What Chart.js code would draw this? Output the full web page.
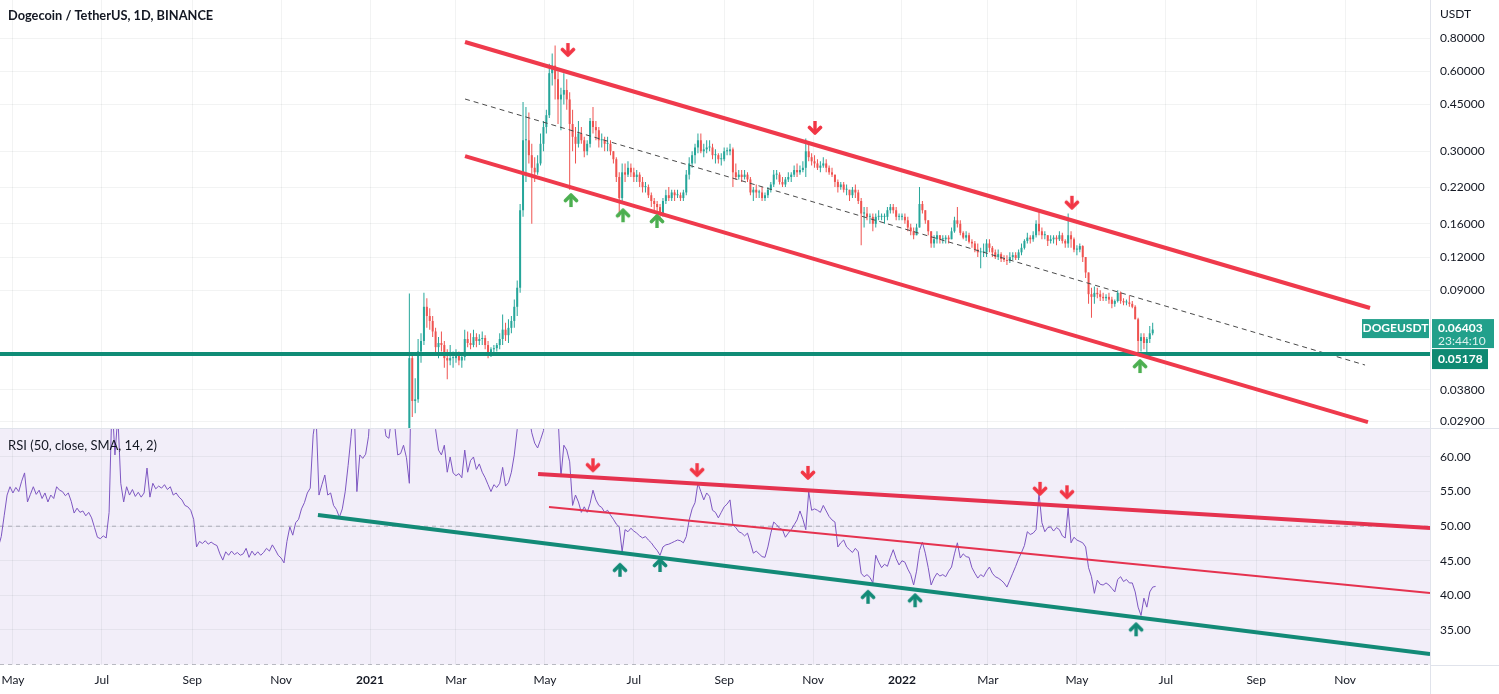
<!DOCTYPE html>
<html><head><meta charset="utf-8">
<script src="https://cdn.jsdelivr.net/npm/chart.js@4.4.1/dist/chart.umd.min.js"></script>
<style>html,body{margin:0;padding:0;background:#fff;overflow:hidden}#wrap{position:relative;width:1499px;height:694px}canvas{display:block}</style>
</head><body><div id="wrap"><canvas id="c" width="1499" height="694"></canvas></div>
<script>
// ---------- DATA ----------
const chartTitle = 'Dogecoin / TetherUS, 1D, BINANCE';
const rsiTitle = 'RSI (50, close, SMA, 14, 2)';
const symbol = 'DOGEUSDT';
const quoteCurrency = 'USDT';
const countdown = '23:44:10';
const lastPrice = 0.06403;
const supportLevel = 0.05178;

// x values are days since 2021-01-01; candles are 2-day candles starting 2021-01-28
const CANDLE_START = 27;
const CANDLE_STEP = 2;
const firstOpen = 0.0075;
const candleHigh = [
.0876,.0520,.0420,.0590,.0620,.0880,.0840,.0770,.0720,.0650,
.0600,.0630,.0580,.0540,.0560,.0530,.0540,.0530,.0520,.0640,
.0630,.0620,.0640,.0620,.0615,.0630,.0610,.0580,.0550,.0560,
.0570,.0620,.0730,.0680,.0700,.0720,.0830,.0980,.1900,.4600,
.4400,.4200,.3200,.2850,.2900,.3500,.3900,.4300,.6400,.7000,
.7500,.6000,.5200,.5900,.5600,.5000,.4300,.3700,.3900,.3700,
.3400,.3300,.4000,.4400,.3900,.3700,.3500,.3400,.3400,.3300,
.3000,.2850,.2500,.2700,.2700,.2750,.2700,.2600,.2550,.2500,
.2400,.2300,.2250,.2100,.2000,.1950,.1900,.2000,.2150,.2200,
.2150,.2150,.2150,.2100,.2150,.2550,.2850,.3000,.3200,.3500,
.3500,.3200,.3300,.3300,.3200,.3050,.2950,.2950,.3100,.3100,
.3200,.3100,.2700,.2550,.2550,.2550,.2500,.2400,.2200,.2250,
.2150,.2200,.2100,.2200,.2300,.2550,.2550,.2500,.2400,.2400,
.2500,.2500,.2650,.2700,.2650,.2750,.3350,.3200,.2950,.2900,
.2800,.2750,.2850,.2800,.2650,.2600,.2450,.2350,.2300,.2300,
.2250,.2150,.2200,.2250,.2150,.2000,.1850,.1850,.1750,.1750,
.1750,.1800,.1750,.1750,.1850,.1900,.1900,.1850,.1750,.1750,
.1750,.1700,.1600,.1550,.1600,.2200,.1950,.1800,.1650,.1500,
.1450,.1500,.1450,.1450,.1450,.1450,.1550,.1700,.1850,.1650,
.1500,.1500,.1480,.1400,.1380,.1350,.1300,.1350,.1400,.1400,
.1320,.1280,.1280,.1250,.1220,.1220,.1250,.1250,.1250,.1280,
.1350,.1400,.1480,.1450,.1500,.1650,.1780,.1550,.1500,.1450,
.1450,.1450,.1450,.1500,.1480,.1400,.1750,.1500,.1420,.1330,
.1350,.1330,.1200,.1050,.0920,.0930,.0920,.0900,.0880,.0870,
.0880,.0850,.0830,.0900,.0890,.0840,.0830,.0860,.0820,.0790,
.0710,.0620,.0620,.0600,.0660,.0680];
const candleLow = [
.0075,.0300,.0310,.0340,.0480,.0560,.0650,.0640,.0600,.0520,
.0500,.0530,.0460,.0416,.0470,.0460,.0480,.0470,.0460,.0490,
.0550,.0540,.0550,.0550,.0560,.0560,.0540,.0500,.0505,.0520,
.0530,.0540,.0560,.0580,.0570,.0620,.0650,.0720,.0880,.1700,
.2300,.2700,.1600,.2300,.2450,.2650,.3000,.3500,.4000,.5300,
.4700,.3800,.3600,.4500,.4300,.2150,.3000,.2700,.3100,.3200,
.2850,.2900,.3100,.3500,.3300,.3100,.3100,.3000,.3000,.2900,
.2700,.2300,.1700,.1900,.2300,.2400,.2400,.2300,.2300,.2200,
.2100,.2100,.2000,.1850,.1800,.1750,.1650,.1700,.1900,.1950,
.1950,.1950,.2000,.1950,.1950,.2050,.2350,.2600,.2700,.2950,
.2950,.2850,.2950,.3000,.2800,.2700,.2700,.2650,.2750,.2900,
.2900,.2200,.2350,.2350,.2300,.2350,.2300,.2050,.1950,.2000,
.2000,.1950,.1950,.2000,.2100,.2200,.2350,.2250,.2200,.2200,
.2300,.2300,.2400,.2400,.2450,.2500,.2400,.2750,.2650,.2600,
.2550,.2500,.2600,.2500,.2450,.2400,.2200,.2100,.2150,.2100,
.2050,.1950,.2000,.2000,.1900,.1330,.1550,.1650,.1600,.1500,
.1550,.1650,.1650,.1600,.1650,.1750,.1750,.1650,.1650,.1650,
.1600,.1500,.1450,.1400,.1450,.1550,.1750,.1600,.1450,.1300,
.1300,.1350,.1350,.1350,.1350,.1350,.1400,.1480,.1550,.1450,
.1400,.1380,.1350,.1300,.1250,.1200,.1090,.1200,.1200,.1250,
.1200,.1180,.1170,.1150,.1150,.1120,.1140,.1170,.1170,.1170,
.1220,.1280,.1350,.1350,.1370,.1420,.1450,.1400,.1400,.1320,
.1350,.1350,.1330,.1380,.1350,.1300,.1300,.1300,.1250,.1220,
.1250,.1150,.1000,.0800,.0710,.0800,.0840,.0820,.0820,.0820,
.0800,.0770,.0780,.0810,.0800,.0790,.0790,.0780,.0770,.0700,
.0510,.0530,.0540,.0500,.0570,.0610];
const candleClose = [
.0500,.0345,.0350,.0530,.0580,.0780,.0720,.0690,.0630,.0550,
.0570,.0560,.0500,.0490,.0500,.0500,.0510,.0490,.0505,.0590,
.0570,.0560,.0600,.0580,.0590,.0595,.0560,.0520,.0540,.0545,
.0560,.0590,.0640,.0610,.0650,.0690,.0780,.0920,.1800,.3300,
.3300,.2900,.2600,.2500,.2700,.3200,.3700,.4100,.5900,.6300,
.5600,.4700,.4900,.5100,.4700,.3800,.3400,.3200,.3500,.3300,
.3000,.3200,.3900,.3700,.3600,.3300,.3300,.3200,.3200,.3000,
.2800,.2400,.2000,.2500,.2450,.2600,.2500,.2400,.2450,.2300,
.2200,.2200,.2050,.1950,.1900,.1850,.1750,.1950,.2050,.2000,
.2100,.2050,.2050,.2000,.2100,.2450,.2700,.2900,.3100,.3300,
.3000,.3050,.3100,.3100,.2900,.2900,.2800,.2800,.3000,.3000,
.3050,.2500,.2400,.2450,.2400,.2450,.2350,.2100,.2150,.2100,
.2100,.2000,.2050,.2150,.2250,.2450,.2450,.2300,.2250,.2350,
.2400,.2450,.2550,.2500,.2550,.2600,.3000,.2850,.2750,.2700,
.2600,.2650,.2700,.2600,.2500,.2450,.2300,.2200,.2250,.2150,
.2150,.2050,.2150,.2100,.1950,.1750,.1750,.1700,.1700,.1600,
.1700,.1700,.1700,.1700,.1800,.1850,.1800,.1700,.1700,.1700,
.1650,.1550,.1500,.1450,.1550,.1900,.1800,.1650,.1500,.1350,
.1400,.1450,.1400,.1400,.1420,.1400,.1500,.1650,.1600,.1480,
.1420,.1450,.1370,.1350,.1280,.1250,.1250,.1250,.1350,.1300,
.1250,.1200,.1230,.1180,.1170,.1160,.1200,.1220,.1190,.1250,
.1300,.1380,.1420,.1400,.1450,.1600,.1500,.1450,.1450,.1380,
.1400,.1420,.1400,.1450,.1380,.1350,.1450,.1400,.1280,.1280,
.1320,.1200,.1050,.0870,.0850,.0880,.0870,.0850,.0840,.0850,
.0830,.0800,.0820,.0880,.0820,.0810,.0810,.0800,.0780,.0700,
.0580,.0600,.0570,.0590,.0620,.06403];

// RSI(50): one value every 2 days starting 2020-04-21 (day -255)
const RSI_START = -255;
const RSI_STEP = 2;
const rsiValues = [
47.0,48.5,51.5,54.5,55.7,54.8,55.6,55.0,56.5,57.7,
53.5,54.6,55.7,54.6,55.2,54.0,54.8,53.5,54.5,54.0,
55.7,55.2,55.0,54.4,54.8,53.6,51.9,52.6,52.0,52.2,
51.5,52.0,51.2,49.8,48.4,48.2,48.6,48.3,52.0,68.0,
60.3,66.0,56.2,53.5,55.7,54.5,55.3,54.3,54.9,54.2,
54.8,58.4,54.2,56.2,55.4,55.8,55.5,56.0,55.3,55.7,
54.5,54.8,54.2,53.8,53.0,52.8,52.3,51.0,47.0,47.8,
47.5,47.9,47.4,47.7,47.4,47.2,46.0,45.1,46.3,45.8,
46.4,45.9,46.2,45.8,46.0,46.8,45.5,46.4,45.8,46.3,
45.8,46.2,46.8,46.4,47.3,46.6,45.8,45.4,44.7,47.8,
49.9,48.7,50.5,51.0,52.5,53.4,54.8,55.5,63.2,66.0,
54.5,56.0,57.4,54.5,54.8,53.0,52.4,51.3,52.5,55.0,
58.8,63.0,68.0,55.0,60.3,59.8,60.4,63.0,70.0,72.0,
70.0,68.0,66.0,63.0,62.7,66.0,64.5,60.3,60.5,61.7,
59.9,56.2,80.0,78.0,74.0,72.0,76.0,73.0,70.0,67.0,
64.0,61.0,60.3,61.7,57.8,60.0,57.7,57.3,57.6,57.0,
61.0,57.8,59.5,60.0,58.2,59.0,57.8,57.0,56.0,55.0,
56.0,55.6,56.2,58.5,55.8,56.3,57.8,60.3,64.0,70.0,
76.0,72.0,66.0,63.5,62.0,61.3,62.5,63.8,68.0,72.0,
70.0,69.0,66.0,57.1,61.7,61.0,59.3,53.0,54.5,53.5,
52.0,52.8,52.0,53.3,55.2,53.8,53.0,52.7,52.0,52.3,
51.6,51.0,50.3,49.9,46.3,49.5,49.2,49.7,49.3,49.0,
48.6,48.3,48.5,48.0,47.6,47.0,46.5,45.8,47.0,47.3,
47.4,47.6,47.8,48.0,47.9,47.6,48.5,50.9,52.5,53.4,
56.2,55.0,53.8,54.8,54.3,52.3,52.0,51.2,52.0,52.8,
53.2,53.8,50.2,49.8,49.2,49.0,48.6,49.0,47.6,46.1,
46.4,46.0,45.6,45.5,47.0,49.0,50.6,50.2,49.7,49.5,
48.4,49.0,49.5,50.2,50.9,52.2,51.0,49.5,55.0,52.3,
52.5,52.3,52.0,53.0,52.2,51.4,50.9,50.6,47.0,47.6,
48.0,47.0,46.6,46.2,46.8,46.3,43.2,42.7,43.0,42.6,
41.8,45.8,44.8,44.0,44.5,44.2,45.5,46.6,45.3,44.4,
45.0,44.8,43.8,43.0,41.5,43.5,46.5,47.7,46.1,44.0,
41.5,42.5,43.2,42.8,43.0,42.7,43.5,44.1,46.0,47.6,
45.4,46.0,45.6,45.5,44.0,43.2,42.5,43.0,42.7,43.5,
44.1,43.2,42.7,42.5,42.2,41.8,41.2,42.2,43.2,44.2,
45.3,46.2,47.2,49.2,48.8,49.0,49.5,54.8,50.5,49.2,
49.8,49.9,49.3,49.8,49.5,48.6,48.3,52.6,47.6,48.4,
48.0,47.8,47.6,47.0,44.0,42.7,40.3,42.2,41.6,41.5,
41.8,41.5,41.0,40.5,42.3,42.7,42.0,42.3,41.8,41.8,
40.5,38.3,37.1,39.6,38.3,40.5,41.2,41.3];

// axes
const xMin = -253.86, xMax = 727.27;
const timeTickDays = [-245,-184,-122,-61,0,59,120,181,243,304,365,424,485,546,608,669];
const timeTickLabels = ['May','Jul','Sep','Nov','2021','Mar','May','Jul','Sep','Nov','2022','Mar','May','Jul','Sep','Nov'];
const priceMin = 0.0273, priceMax = 1.112;
const priceTicks = [0.8,0.6,0.45,0.3,0.22,0.16,0.12,0.09,0.038,0.029];
const rsiMin = 29.94, rsiMax = 64.19;
const rsiTicks = [35,40,45,50,55,60];
const rsiLevels = [50,30];

// drawings [day, value]
const channelUpper = [[65.2,0.7727],[686.1,0.0772]];
const channelLower = [[65.2,0.2878],[684.7,0.02873]];
const channelMid = [[65.2,0.4717],[682.7,0.0471]];
const priceArrowsDown = [[135.8,0.721],[305.3,0.367],[481.6,0.192]];
const priceArrowsUp = [[137.9,0.1966],[173.6,0.1724],[196.9,0.164],[528.3,0.0467]];
const rsiLineUpper = [[115.3,57.54],[727.3,49.74]];
const rsiLineMid = [[122.8,52.77],[727.3,40.35]];
const rsiLineLower = [[-35.7,51.62],[727.3,31.53]];
const rsiArrowsDown = [[153,58.8],[224.4,58.1],[300.5,57.7],[459.7,55.4],[478.2,54.9]];
const rsiArrowsUp = [[171.5,43.7],[199,44.4],[341.7,39.8],[374,39.3],[525.6,35.1]];

// ---------- BUILD ----------
const GREEN = '#26a69a', RED = '#ef5350';
const candleDays = candleClose.map((_, i) => CANDLE_START + i * CANDLE_STEP);
const candleOpen = candleClose.map((c, i) => i === 0 ? firstOpen : candleClose[i - 1]);
const candleColors = candleClose.map((c, i) => c >= candleOpen[i] ? GREEN : RED);
const bodies = candleDays.map((d, i) => ({x: d, y: [candleOpen[i], candleClose[i]]}));
const wicks = candleDays.map((d, i) => ({x: d, y: [candleLow[i], candleHigh[i]]}));
const rsiPoints = rsiValues.map((v, i) => ({x: RSI_START + i * RSI_STEP, y: v}));

function arrowImg(color, up) {
  const c = document.createElement('canvas'); c.width = 16; c.height = 16;
  const g = c.getContext('2d');
  if (up) { g.translate(0, 16); g.scale(1, -1); }
  g.strokeStyle = color; g.fillStyle = color; g.lineCap = 'round'; g.lineJoin = 'round';
  g.fillRect(6.3, 1, 3.4, 10);
  g.lineWidth = 3.6;
  g.beginPath(); g.moveTo(2.5, 7.5); g.lineTo(8, 13); g.lineTo(13.5, 7.5); g.stroke();
  return c;
}
const toXY = pts => pts.map(p => ({x: p[0], y: p[1]}));
function seg(pts, axis, color, width, dash, order) {
  return {type: 'line', yAxisID: axis, data: toXY(pts), borderColor: color, borderWidth: width,
    borderDash: dash || [], pointRadius: 0, fill: false, tension: 0, order, borderCapStyle: 'butt'};
}
function arrows(pts, axis, img) {
  return {type: 'scatter', yAxisID: axis, data: toXY(pts), pointStyle: img, pointRadius: 8, showLine: false, order: 0};
}

const datasets = [
  {type: 'bar', yAxisID: 'y', data: wicks, backgroundColor: candleColors, barThickness: 1, grouped: false, inflateAmount: 0, order: 6},
  {type: 'bar', yAxisID: 'y', data: bodies, backgroundColor: candleColors, barThickness: 2, grouped: false, inflateAmount: 0, minBarLength: 1, order: 5},
  seg([[xMin, supportLevel], [xMax, supportLevel]], 'y', '#0f8c76', 4, null, 2),
  seg(channelMid, 'y', '#4a4a4a', 1, [5, 4], 2),
  seg(channelUpper, 'y', '#ef3a4c', 4, null, 1),
  seg(channelLower, 'y', '#ef3a4c', 4, null, 1),
  arrows(priceArrowsDown, 'y', arrowImg('#f23645', false)),
  arrows(priceArrowsUp, 'y', arrowImg('#4caf50', true)),
  ...rsiLevels.map(l => seg([[xMin, l], [xMax, l]], 'rsi', 'rgba(120,123,134,0.55)', 1, [4, 4], 7)),
  {type: 'line', yAxisID: 'rsi', data: rsiPoints, borderColor: '#7e57c2', borderWidth: 1, pointRadius: 0, tension: 0, fill: false, order: 4},
  seg(rsiLineUpper, 'rsi', '#e5324f', 4, null, 1),
  seg(rsiLineMid, 'rsi', '#e5324f', 2, null, 1),
  seg(rsiLineLower, 'rsi', '#138a77', 4, null, 1),
  arrows(rsiArrowsDown, 'rsi', arrowImg('#f23645', false)),
  arrows(rsiArrowsUp, 'rsi', arrowImg('#138a77', true))
];

const GRID = 'rgba(42,46,57,0.06)';
const FONT = 'Lato';
const NOPAD = {left: 0, top: 0, right: 0, bottom: 0};
const zeroPad = s => {
  s.paddingTop = 0; s.paddingBottom = 0; s.paddingLeft = 0; s.paddingRight = 0;
  s.getPadding = () => NOPAD;
};

const panes = {
  id: 'panes',
  beforeDraw(chart) {
    const {ctx, chartArea: a} = chart, r = chart.scales.rsi;
    ctx.save();
    ctx.fillStyle = '#ffffff'; ctx.fillRect(0, 0, chart.width, chart.height);
    ctx.fillStyle = '#f2eef9';
    const bottom = r.getPixelForValue(30);
    ctx.fillRect(a.left, r.top, a.right - a.left, bottom - r.top);
    ctx.restore();
  },
  beforeDatasetDraw(chart, args) {
    const s = chart.scales[args.meta.yAxisID], a = chart.chartArea, ctx = chart.ctx;
    ctx.save(); ctx.beginPath(); ctx.rect(a.left, s.top, a.right - a.left, s.bottom - s.top); ctx.clip();
  },
  afterDatasetDraw(chart) { chart.ctx.restore(); },
  afterDraw(chart) {
    const {ctx, chartArea: a} = chart, y = chart.scales.y, r = chart.scales.rsi;
    ctx.save();
    ctx.strokeStyle = '#e0e3eb'; ctx.lineWidth = 1;
    ctx.beginPath();
    ctx.moveTo(0, Math.round(y.bottom) + 0.5); ctx.lineTo(chart.width, Math.round(y.bottom) + 0.5);
    ctx.moveTo(Math.round(a.right) + 0.5, 0); ctx.lineTo(Math.round(a.right) + 0.5, chart.height);
    ctx.moveTo(a.right, Math.round(a.bottom) + 0.5); ctx.lineTo(chart.width, Math.round(a.bottom) + 0.5);
    ctx.stroke();
    ctx.textBaseline = 'middle'; ctx.textAlign = 'left'; ctx.fillStyle = '#131722';
    ctx.font = 'bold 12.8px ' + FONT; ctx.fillText(chartTitle, 8, 16);
    ctx.font = '13px ' + FONT; ctx.fillText(rsiTitle, 8, r.top + 18);
    ctx.font = '12px ' + FONT; ctx.fillText(quoteCurrency, a.right + 10, 14);
    // last price label
    const yl = y.getPixelForValue(lastPrice);
    const bx = a.right + 2;
    ctx.fillStyle = '#22a08b';
    ctx.fillRect(bx, yl - 10.5, 62, 29);
    ctx.fillRect(1362, yl - 10.5, 67, 19);
    ctx.fillStyle = '#ffffff'; ctx.font = 'bold 12px ' + FONT;
    ctx.fillText(lastPrice.toFixed(5), bx + 6, yl - 1.5);
    ctx.textAlign = 'center'; ctx.fillText(symbol, 1362 + 33.5, yl - 1);
    ctx.textAlign = 'left'; ctx.font = '12px ' + FONT; ctx.fillStyle = 'rgba(255,255,255,0.85)';
    ctx.fillText(countdown, bx + 6, yl + 12);
    // support label
    const ys = Math.max(y.getPixelForValue(supportLevel), yl + 18.5 + 11);
    ctx.fillStyle = '#0f8a73';
    ctx.fillRect(bx, ys - 10, 56, 20);
    ctx.fillStyle = '#ffffff'; ctx.font = 'bold 12px ' + FONT;
    ctx.fillText(supportLevel.toFixed(5), bx + 6, ys);
    ctx.restore();
  }
};

new Chart(document.getElementById('c'), {
  type: 'bar',
  data: {datasets},
  options: {
    responsive: false, maintainAspectRatio: false, devicePixelRatio: 1, animation: false, events: [],
    layout: {padding: {left: 0, right: 0, top: 0, bottom: 0}, autoPadding: false},
    plugins: {legend: {display: false}, tooltip: {enabled: false}, title: {display: false}},
    scales: {
      x: {type: 'linear', axis: 'x', position: 'bottom', min: xMin, max: xMax, bounds: 'data', offset: false,
        afterBuildTicks: s => { s.ticks = timeTickDays.map(v => ({value: v})); },
        afterFit: s => { s.height = 29; zeroPad(s); },
        grid: {color: GRID, drawTicks: false, offset: false}, border: {display: false},
        ticks: {autoSkip: false, maxRotation: 0, padding: 8, color: '#131722',
          font: ctx => ({family: FONT, size: 12, weight: (ctx.tick && /^\d{4}$/.test(ctx.tick.label)) ? 'bold' : 'normal'}),
          callback: (v, i) => timeTickLabels[i]}},
      y: {type: 'logarithmic', axis: 'y', position: 'right', stack: 'panes', stackWeight: 428, min: priceMin, max: priceMax, bounds: 'data',
        afterBuildTicks: s => { s.ticks = priceTicks.map(v => ({value: v})); },
        afterFit: s => { s.width = 69; zeroPad(s); },
        grid: {color: GRID, drawTicks: false}, border: {display: false},
        ticks: {padding: 10, color: '#131722', font: {family: FONT, size: 12}, callback: v => Number(v).toFixed(5)}},
      rsi: {type: 'linear', axis: 'y', position: 'right', stack: 'panes', stackWeight: 237, min: rsiMin, max: rsiMax, bounds: 'data',
        afterBuildTicks: s => { s.ticks = rsiTicks.map(v => ({value: v})); },
        afterFit: s => { s.width = 69; zeroPad(s); },
        grid: {color: GRID, drawTicks: false}, border: {display: false},
        ticks: {padding: 10, color: '#131722', font: {family: FONT, size: 12}, callback: v => Number(v).toFixed(2)}}
    }
  },
  plugins: [panes]
});
</script></body></html>
